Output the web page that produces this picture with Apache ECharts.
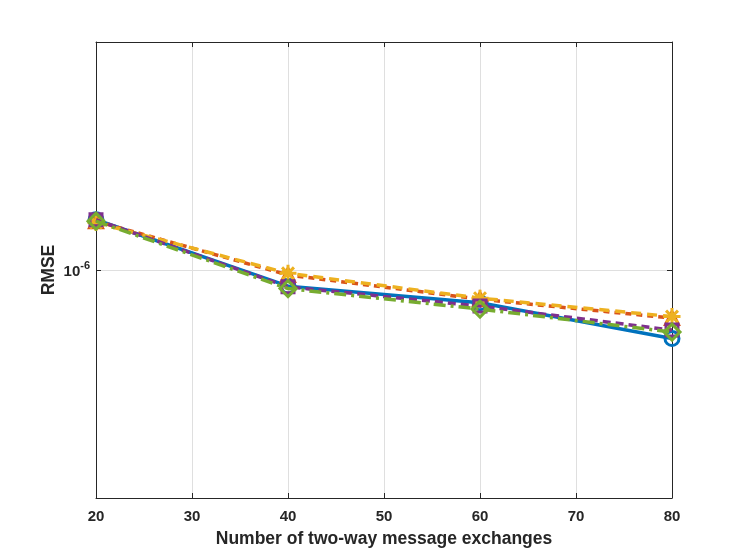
<!DOCTYPE html>
<html>
<head>
<meta charset="utf-8">
<script src="https://cdn.jsdelivr.net/npm/echarts@6/dist/echarts.min.js"></script>
<style>
html, body { margin: 0; padding: 0; background: #fff; }
#chart { width: 742px; height: 560px; }
</style>
</head>
<body>
<div id="chart"></div>
<script>
// message exchanges on the x axis
var exchanges = [20, 40, 60, 80];
// RMSE
var rmseBlue   = [1.165e-6, 0.952e-6, 0.905e-6, 0.812e-6];
var rmseOrange = [1.160e-6, 0.985e-6, 0.915e-6, 0.864e-6];
var rmseYellow = [1.155e-6, 0.990e-6, 0.918e-6, 0.868e-6];
var rmsePurple = [1.165e-6, 0.950e-6, 0.896e-6, 0.833e-6];
var rmseGreen  = [1.160e-6, 0.945e-6, 0.888e-6, 0.828e-6];
var xTicks = [20, 30, 40, 50, 60, 70, 80];
var yTickLabel = 1e-6;

var font = '"Liberation Sans", Arial, sans-serif';
var asterisk = 'path://M0,-10L0,10M-10,0L10,0M-7,-7L7,7M-7,7L7,-7';

function pairs(ys) {
    var out = [];
    for (var i = 0; i < exchanges.length; i++) {
        out.push([exchanges[i], ys[i]]);
    }
    return out;
}

function line(name, ys, color, type, symbol, size, z) {
    return {
        name: name,
        type: "line",
        data: pairs(ys),
        symbol: symbol,
        symbolSize: size,
        z: z,
        lineStyle: { color: color, width: 3.5, type: type },
        itemStyle: { color: "rgba(0,0,0,0)", borderColor: color, borderWidth: 3 },
        emphasis: { disabled: true }
    };
}

var e = echarts.init(document.getElementById("chart"));
var a = {
    animation: false,
    backgroundColor: "#fff",
    grid: { left: 96, right: 70, top: 42, bottom: 62 },
    xAxis: [{
        type: "value",
        min: 20,
        max: 80,
        interval: 10,
        name: "Number of two-way message exchanges",
        nameLocation: "middle",
        nameGap: 32,
        nameTextStyle: { fontFamily: font, fontWeight: "bold", fontSize: 17.5, color: "#262626" },
        axisLine: { show: true, lineStyle: { color: "#262626", width: 1 } },
        axisTick: { show: true, inside: true, length: 5, lineStyle: { color: "#262626" } },
        axisLabel: {
            margin: 11,
            fontFamily: font, fontWeight: "bold", fontSize: 15, color: "#262626",
            formatter: function(v) { return xTicks.indexOf(v) >= 0 ? String(v) : ""; }
        },
        splitLine: { show: true, lineStyle: { color: "#dfdfdf", width: 1 } }
    }, {
        type: "value",
        position: "top",
        min: 20,
        max: 80,
        interval: 10,
        axisLine: { show: true, lineStyle: { color: "#262626", width: 1 } },
        axisTick: { show: true, inside: true, length: 5, lineStyle: { color: "#262626" } },
        axisLabel: { show: false },
        splitLine: { show: false }
    }],
    yAxis: [{
        type: "log",
        logBase: 10,
        min: 5e-7,
        max: 2e-6,
        name: "RMSE",
        nameLocation: "middle",
        nameGap: 38,
        nameMoveOverlap: false,
        nameTextStyle: { fontFamily: font, fontWeight: "bold", fontSize: 17.5, color: "#262626" },
        axisLine: { show: true, lineStyle: { color: "#262626", width: 1 } },
        axisTick: { show: true, inside: true, length: 5, lineStyle: { color: "#262626" } },
        axisLabel: {
            margin: 6,
            showMinLabel: false,
            showMaxLabel: false,
            formatter: function(v) {
                return Math.abs(v - yTickLabel) < 1e-9 ? "{b|10}{s|-6}" : "";
            },
            rich: {
                b: { fontFamily: font, fontWeight: "bold", fontSize: 15, color: "#262626", padding: [4, 0, 0, 0] },
                s: { fontFamily: font, fontWeight: "bold", fontSize: 11, color: "#262626", padding: [0, 0, 8, 0] }
            }
        },
        splitLine: { show: true, lineStyle: { color: "#dfdfdf", width: 1 } }
    }, {
        type: "log",
        logBase: 10,
        min: 5e-7,
        max: 2e-6,
        position: "right",
        axisLine: { show: true, lineStyle: { color: "#262626", width: 1 } },
        axisTick: { show: true, inside: true, length: 5, lineStyle: { color: "#262626" } },
        axisLabel: { show: false },
        splitLine: { show: false }
    }],
    series: [
        line("blue", rmseBlue, "#0072BD", "solid", "circle", 14, 2),
        line("orange", rmseOrange, "#D95319", [6, 5], "triangle", 13, 3),
        line("yellow", rmseYellow, "#EDB120", [10, 6], asterisk, 17, 4),
        line("purple", rmsePurple, "#7E2F8E", [8, 5], "rect", 12, 5),
        line("green", rmseGreen, "#77AC30", [12, 5, 3, 5], "diamond", 16, 6)
    ]
};
e.setOption(a);
window.addEventListener("resize", function() { e.resize(); });
</script>
</body>
</html>
